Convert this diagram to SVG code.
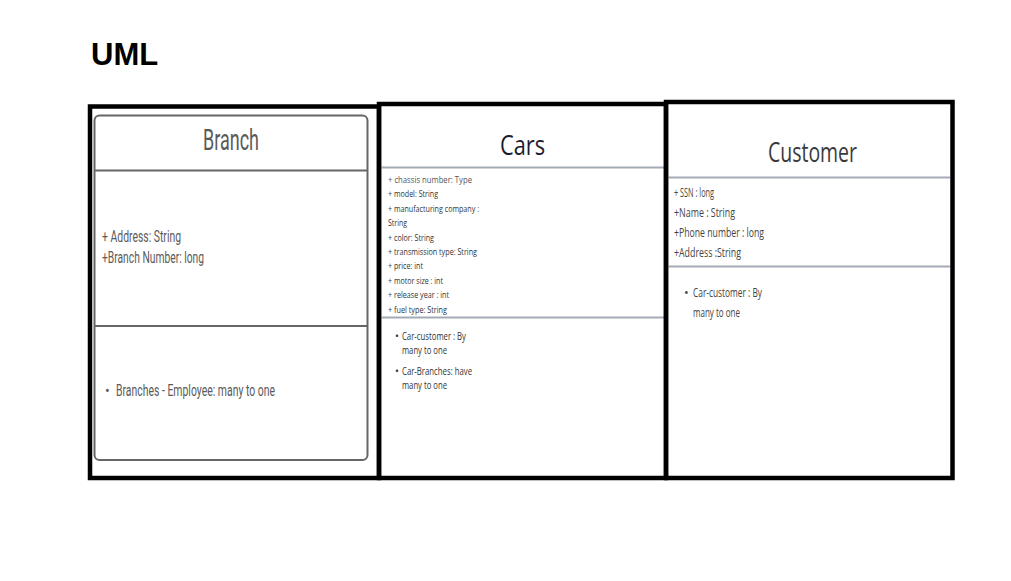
<svg xmlns="http://www.w3.org/2000/svg" width="1011" height="581" viewBox="0 0 1011 581">
<style>
.frame{fill:none;stroke:#000;stroke-width:4.5}
.bt{font-family:Roboto,"Liberation Sans",sans-serif;fill:#5a5a5a}
.ct{font-family:"Open Sans","Noto Sans",sans-serif;fill:#333}
.cu{font-family:"Open Sans","Noto Sans",sans-serif;fill:#444}
.div{stroke:#a3abb6;stroke-width:2}
</style>
<rect x="0" y="0" width="1011" height="581" fill="#fff"/>
<text x="91" y="65" font-family="Liberation Sans,Arial,sans-serif" font-weight="bold" font-size="31" fill="#000">UML</text>

<g id="branch">
  <rect x="94.5" y="115.5" width="273" height="344.5" rx="5" fill="#fff" stroke="#666" stroke-width="2"/>
  <line x1="95" y1="170.5" x2="367" y2="170.5" stroke="#666" stroke-width="2"/>
  <line x1="95" y1="326" x2="367" y2="326" stroke="#666" stroke-width="2"/>
  <text class="bt" x="203" y="150" font-size="29" textLength="56" lengthAdjust="spacingAndGlyphs">Branch</text>
  <text class="bt" x="102" y="242" font-size="16" textLength="79" lengthAdjust="spacingAndGlyphs">+ Address: String</text>
  <text class="bt" x="102" y="263" font-size="16" textLength="102" lengthAdjust="spacingAndGlyphs">+Branch Number: long</text>
  <text class="bt" x="105" y="396" font-size="14">•</text>
  <text class="bt" x="116" y="396" font-size="16" textLength="159" lengthAdjust="spacingAndGlyphs">Branches - Employee: many to one</text>
  <rect class="frame" x="90" y="106.5" width="289" height="371.5"/>
</g>

<g id="cars">
  <line class="div" x1="381" y1="167.5" x2="664" y2="167.5"/>
  <line class="div" x1="381" y1="317.5" x2="664" y2="317.5"/>
  <text x="500" y="155" font-family="Open Sans,Noto Sans,sans-serif" font-size="28" fill="#1c1c30" textLength="45" lengthAdjust="spacingAndGlyphs">Cars</text>
  <g class="ct" font-size="9.5">
    <text x="388" y="183" fill="#555" textLength="84" lengthAdjust="spacingAndGlyphs">+  chassis number: Type</text>
    <text x="388" y="197.4" textLength="50" lengthAdjust="spacingAndGlyphs">+ model: String</text>
    <text x="388" y="211.8" textLength="91" lengthAdjust="spacingAndGlyphs">+ manufacturing company :</text>
    <text x="388" y="226.2" textLength="19" lengthAdjust="spacingAndGlyphs">String</text>
    <text x="388" y="240.6" textLength="46" lengthAdjust="spacingAndGlyphs">+ color: String</text>
    <text x="388" y="255" textLength="89" lengthAdjust="spacingAndGlyphs">+ transmission type: String</text>
    <text x="388" y="269.4" textLength="35" lengthAdjust="spacingAndGlyphs">+ price: int</text>
    <text x="388" y="283.8" textLength="55" lengthAdjust="spacingAndGlyphs">+ motor size : int</text>
    <text x="388" y="298.2" textLength="61" lengthAdjust="spacingAndGlyphs">+ release year : int</text>
    <text x="388" y="312.6" textLength="59" lengthAdjust="spacingAndGlyphs">+ fuel type: String</text>
  </g>
  <g class="ct" font-size="10.5">
    <text x="395" y="340">•</text>
    <text x="402" y="340" textLength="64" lengthAdjust="spacingAndGlyphs">Car-customer : By</text>
    <text x="402" y="354" textLength="45" lengthAdjust="spacingAndGlyphs">many to one</text>
    <text x="395" y="375">•</text>
    <text x="402" y="375" textLength="70" lengthAdjust="spacingAndGlyphs">Car-Branches: have</text>
    <text x="402" y="389" textLength="45" lengthAdjust="spacingAndGlyphs">many to one</text>
  </g>
  <rect class="frame" x="379" y="104" width="287" height="374"/>
</g>

<g id="customer">
  <line class="div" x1="668" y1="177.5" x2="950" y2="177.5"/>
  <line class="div" x1="668" y1="266.5" x2="950" y2="266.5"/>
  <text x="768" y="162" font-family="Open Sans,Noto Sans,sans-serif" font-size="28" fill="#3a3a3a" textLength="89" lengthAdjust="spacingAndGlyphs">Customer</text>
  <g class="cu" font-size="12.5">
    <text x="674" y="197" textLength="40" lengthAdjust="spacingAndGlyphs">+ SSN : long</text>
    <text x="674" y="217" textLength="61" lengthAdjust="spacingAndGlyphs">+Name : String</text>
    <text x="674" y="237" textLength="90" lengthAdjust="spacingAndGlyphs">+Phone number : long</text>
    <text x="674" y="257" textLength="67" lengthAdjust="spacingAndGlyphs">+Address :String</text>
    <text x="684" y="297">•</text>
    <text x="693" y="297" textLength="69" lengthAdjust="spacingAndGlyphs">Car-customer : By</text>
    <text x="693" y="317" textLength="47" lengthAdjust="spacingAndGlyphs">many to one</text>
  </g>
  <rect class="frame" x="666" y="102" width="286.5" height="376"/>
</g>
</svg>
